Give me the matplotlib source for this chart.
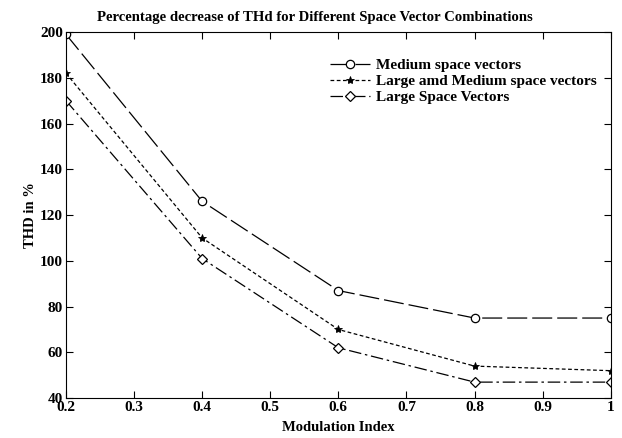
import matplotlib
matplotlib.use("Agg")
import matplotlib.pyplot as plt

m_index = [0.2, 0.4, 0.6, 0.8, 1.0]
thd_medium = [199, 126, 87, 75, 75]
thd_large_medium = [182, 110, 70, 54, 52]
thd_large = [170, 101, 62, 47, 47]

plt.rcParams['font.family'] = ['Liberation Serif', 'DejaVu Serif']
plt.rcParams['font.weight'] = 'bold'

fig = plt.figure(figsize=(6.22, 4.38), dpi=100)
ax = fig.add_axes([0.106, 0.091, 0.876, 0.836])

ax.plot(m_index, thd_medium, color='black', lw=0.9, dashes=(16, 4),
        marker='o', ms=6, mfc='white', mec='black', mew=0.9,
        label='Medium space vectors')
ax.plot(m_index, thd_large_medium, color='black', lw=0.9, dashes=(3, 2),
        marker='*', ms=6, mfc='black', mec='black', mew=0.6,
        label='Large amd Medium space vectors')
ax.plot(m_index, thd_large, color='black', lw=0.9, dashes=(10, 3, 2, 3),
        marker='D', ms=5, mfc='white', mec='black', mew=0.9,
        label='Large Space Vectors')

ax.set_xlim(0.2, 1.0)
ax.set_ylim(40, 200)
ax.set_xticks([0.2, 0.3, 0.4, 0.5, 0.6, 0.7, 0.8, 0.9, 1.0])
ax.set_xticklabels(['0.2', '0.3', '0.4', '0.5', '0.6', '0.7', '0.8', '0.9', '1'])
ax.set_yticks(range(40, 201, 20))
ax.tick_params(direction='in', top=True, right=True, length=5, labelsize=11, pad=2)
for lbl in ax.get_xticklabels() + ax.get_yticklabels():
    lbl.set_fontweight('bold')

# title sits centred on the figure rather than the axes
fig.text(0.507, 0.945, 'Percentage decrease of THd for Different Space Vector Combinations',
         ha='center', va='bottom', fontsize=10.6, fontweight='bold')
ax.set_xlabel('Modulation Index', fontsize=10.5, fontweight='bold', labelpad=5)
ax.set_ylabel('THD in %', fontsize=10.5, fontweight='bold', labelpad=2)

leg = ax.legend(loc='upper right', bbox_to_anchor=(1.0, 0.965), frameon=False,
                handlelength=2.6, handletextpad=0.4,
                labelspacing=0.15, prop={'weight': 'bold', 'size': 11})

fig.savefig('out.png', dpi=100)
